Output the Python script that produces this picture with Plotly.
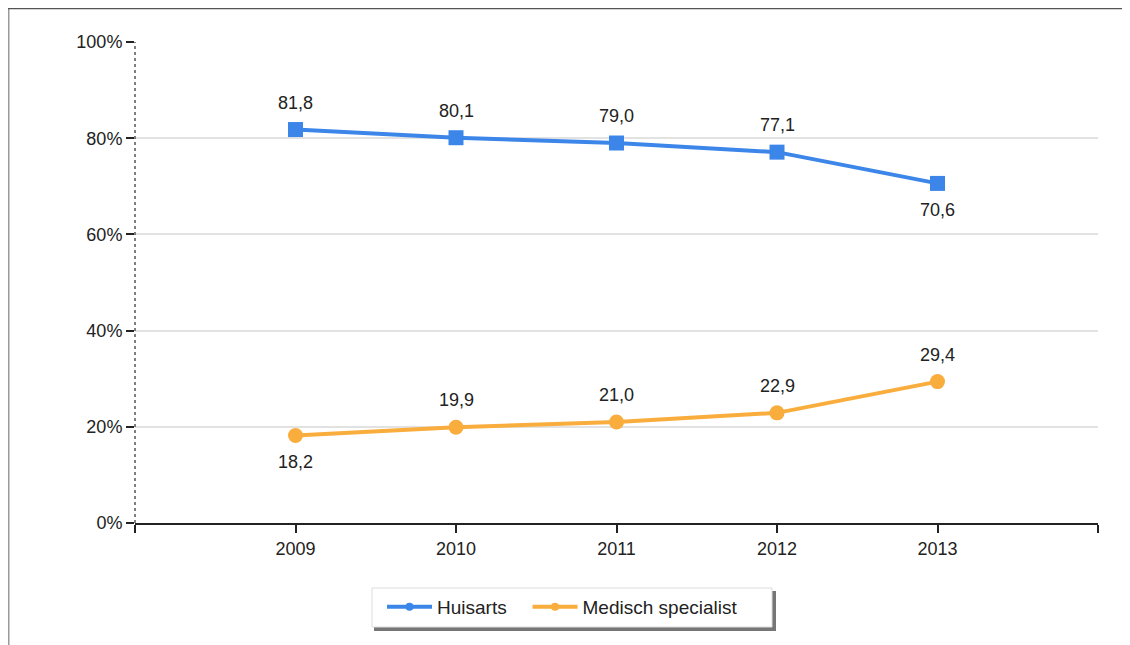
import plotly.graph_objects as go

years = [2009, 2010, 2011, 2012, 2013]
huisarts = [81.8, 80.1, 79.0, 77.1, 70.6]
specialist = [18.2, 19.9, 21.0, 22.9, 29.4]
series_names = ["Huisarts", "Medisch specialist"]
huisarts_above = [True, True, True, True, False]
specialist_above = [False, True, True, True, True]
y_ticks = [0, 20, 40, 60, 80, 100]
y_ticktext = ["0%", "20%", "40%", "60%", "80%", "100%"]

def fmt(v):
    return f"{v:.1f}".replace(".", ",")

BLUE = "#3b86e8"
ORANGE = "#f9ad3d"
FONT = "Liberation Sans, Arial, sans-serif"
TXT = "#222"
NBSP = "\u00a0"

fig = go.Figure()
styles = [(huisarts, BLUE, "square"), (specialist, ORANGE, "circle")]
for name, (vals, col, sym) in zip(series_names, styles):
    fig.add_trace(go.Scatter(
        x=years, y=vals, name=name, mode="lines+markers", showlegend=False,
        line=dict(color=col, width=4),
        marker=dict(symbol=sym, size=15, color=col),
    ))
# legend entries with small markers, as in the reference legend
pads = [NBSP * 3, ""]
for name, (vals, col, sym), pad in zip(series_names, styles, pads):
    fig.add_trace(go.Scatter(
        x=[None], y=[None], name=name + pad, mode="lines+markers", showlegend=True,
        line=dict(color=col, width=4),
        marker=dict(symbol="circle", size=8, color=col),
    ))

annotations = []
for series, above in ((huisarts, huisarts_above), (specialist, specialist_above)):
    for x, v, a in zip(years, series, above):
        annotations.append(dict(
            x=x, y=v, xref="x", yref="y", text=fmt(v), showarrow=False,
            yshift=27 if a else -27, font=dict(size=18, color=TXT, family=FONT),
        ))

OFF = 8
W, H = 1130 - OFF, 645 - OFF
L, T = 135 - OFF, 42 - OFF
R = W - (1098 - OFF)
B = H - (523 - OFF)
pw, ph = W - L - R, H - T - B

def px(x):
    return (x - OFF - L) / pw

def py(y):
    return (H - B - (y - OFF)) / ph

BOX_X0, BOX_X1, BOX_Y0, BOX_Y1 = 372, 772, 588, 627

shapes = [
    dict(type="line", xref="paper", yref="paper", x0=px(8.5), x1=px(8.5), y0=py(8), y1=py(650),
         line=dict(color="#9a9a9a", width=2)),
    dict(type="line", xref="paper", yref="paper", x0=px(8), x1=px(1135), y0=py(8.5), y1=py(8.5),
         line=dict(color="#555", width=1.5)),
    dict(type="line", xref="paper", yref="paper", x0=0, x1=0, y0=0, y1=1,
         line=dict(color="#555", width=1.5, dash="dot")),
    # legend box shadow and box
    dict(type="rect", xref="paper", yref="paper", layer="above",
         x0=px(BOX_X0 + 2), x1=px(BOX_X1 + 4), y0=py(BOX_Y1 + 4), y1=py(BOX_Y0 + 3),
         fillcolor="#5e5e5e", line=dict(width=0), opacity=0.85),
    dict(type="rect", xref="paper", yref="paper", layer="above",
         x0=px(BOX_X0), x1=px(BOX_X1), y0=py(BOX_Y1), y1=py(BOX_Y0),
         fillcolor="white", line=dict(color="#dcdcdc", width=1)),
]

fig.update_layout(
    width=W, height=H,
    margin=dict(l=L, r=R, t=T, b=B),
    paper_bgcolor="white", plot_bgcolor="white",
    font=dict(family=FONT, size=18, color=TXT),
    showlegend=True,
    legend=dict(orientation="h", x=px(382), xanchor="left", y=py(607), yanchor="middle",
                bgcolor="rgba(0,0,0,0)", borderwidth=0, itemwidth=45,
                font=dict(size=19, color=TXT, family=FONT)),
    shapes=shapes,
    annotations=annotations,
    xaxis=dict(range=[2008, 2014], tickvals=[2008, 2009, 2010, 2011, 2012, 2013, 2014],
               ticktext=["", "2009", "2010", "2011", "2012", "2013", ""],
               showgrid=False, zeroline=False, showline=True, linecolor=TXT, linewidth=2,
               ticks="outside", ticklen=8, tickwidth=2, tickcolor=TXT,
               tickfont=dict(size=18, color=TXT)),
    yaxis=dict(range=[0, 100], tickvals=y_ticks, ticktext=y_ticktext,
               showgrid=True, gridcolor="#e2e2e2", gridwidth=1.5, zeroline=False, showline=False,
               ticks="outside", ticklen=8, tickwidth=2, tickcolor=TXT,
               tickfont=dict(size=18, color=TXT)),
)

fig.write_html("out.html")
